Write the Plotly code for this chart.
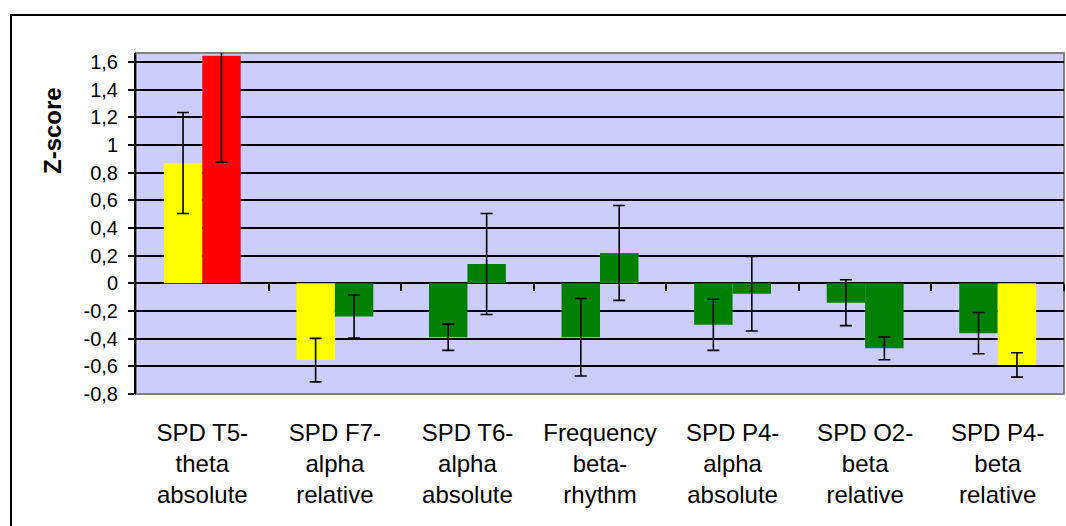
import plotly.graph_objects as go

# Categories (multi-line labels)
categories = [
    "SPD T5-<br>theta<br>absolute",
    "SPD F7-<br>alpha<br>relative",
    "SPD T6-<br>alpha<br>absolute",
    "Frequency<br>beta-<br>rhythm",
    "SPD P4-<br>alpha<br>absolute",
    "SPD O2-<br>beta<br>relative",
    "SPD P4-<br>beta<br>relative",
]

# First bar of each pair
group1_values = [0.87, -0.555, -0.39, -0.39, -0.30, -0.14, -0.36]
group1_errors = [0.365, 0.157, 0.095, 0.28, 0.185, 0.166, 0.149]
group1_colors = ["#FFFF00", "#FFFF00", "#008000", "#008000", "#008000", "#008000", "#008000"]

# Second bar of each pair
group2_values = [1.645, -0.24, 0.14, 0.22, -0.075, -0.47, -0.59]
group2_errors = [0.77, 0.156, 0.365, 0.343, 0.27, 0.082, 0.088]
group2_colors = ["#FF0000", "#008000", "#008000", "#008000", "#008000", "#008000", "#FFFF00"]

# Y axis ticks
y_tick_values = [-0.8, -0.6, -0.4, -0.2, 0, 0.2, 0.4, 0.6, 0.8, 1.0, 1.2, 1.4, 1.6]
y_tick_labels = ["-0,8", "-0,6", "-0,4", "-0,2", "0", "0,2", "0,4", "0,6", "0,8", "1", "1,2", "1,4", "1,6"]

y_min, y_max = -0.8, 1.665
FONT = "Arial, Liberation Sans, sans-serif"

fig = go.Figure()

for vals, errs, cols in [(group1_values, group1_errors, group1_colors),
                         (group2_values, group2_errors, group2_colors)]:
    fig.add_trace(go.Bar(
        x=categories,
        y=vals,
        marker=dict(color=cols, line=dict(width=0)),
        error_y=dict(type="data", array=errs, visible=True,
                     color="#000000", thickness=1.6, width=6),
        showlegend=False,
        hoverinfo="x+y",
    ))

# Axis carrying the category-boundary ticks along the zero line
zero_pos = (0 - y_min) / (y_max - y_min)
boundaries = [i + 0.5 for i in range(len(categories))]

fig.update_layout(
    width=1066,
    height=526,
    margin=dict(l=136, r=2, t=53, b=132),
    paper_bgcolor="#FFFFFF",
    plot_bgcolor="#CCCCFF",
    barmode="group",
    bargap=0.42,
    bargroupgap=0,
    font=dict(family=FONT, color="#000000"),
    xaxis=dict(
        type="category",
        range=[-0.5, len(categories) - 0.5],
        showgrid=False,
        zeroline=False,
        showline=False,
        ticks="",
        tickfont=dict(size=24, family=FONT, color="#000000"),
        ticklabelstandoff=22,
    ),
    xaxis2=dict(
        overlaying="x",
        anchor="free",
        position=zero_pos,
        side="bottom",
        range=[-0.5, len(categories) - 0.5],
        tickmode="array",
        tickvals=boundaries,
        showticklabels=False,
        ticks="outside",
        ticklen=7,
        tickwidth=2,
        tickcolor="#000000",
        showgrid=False,
        zeroline=False,
        showline=False,
    ),
    yaxis=dict(
        range=[y_min, y_max],
        tickmode="array",
        tickvals=y_tick_values,
        ticktext=y_tick_labels,
        tickfont=dict(size=20, family=FONT, color="#000000"),
        ticks="outside",
        ticklen=6,
        tickwidth=2,
        tickcolor="#000000",
        showgrid=True,
        gridcolor="#000000",
        gridwidth=1.6,
        zeroline=True,
        zerolinecolor="#000000",
        zerolinewidth=1.6,
        showline=True,
        linecolor="#000000",
        linewidth=2,
        ticklabelstandoff=6,
    ),
    shapes=[
        # plot-area border
        dict(type="rect", xref="x domain", yref="y domain",
             x0=0, x1=1, y0=0, y1=1,
             line=dict(color="#808080", width=2), layer="below"),
        # chart frame
        dict(type="rect", xref="paper", yref="paper",
             x0=-125 / 928, x1=1.2, y0=-0.6, y1=1 + 38 / 341,
             line=dict(color="#000000", width=2), layer="below"),
    ],
    annotations=[
        dict(text="<b>Z-score</b>", xref="paper", yref="paper",
             x=-84 / 928, y=(394 - 131) / 341, textangle=-90,
             xanchor="center", yanchor="middle", showarrow=False,
             font=dict(size=24, family=FONT, color="#000000")),
    ],
)

# empty trace so the zero-line tick axis is rendered
fig.add_trace(go.Scatter(x=[], y=[], xaxis="x2", showlegend=False, hoverinfo="skip"))

fig.write_html("out.html")
